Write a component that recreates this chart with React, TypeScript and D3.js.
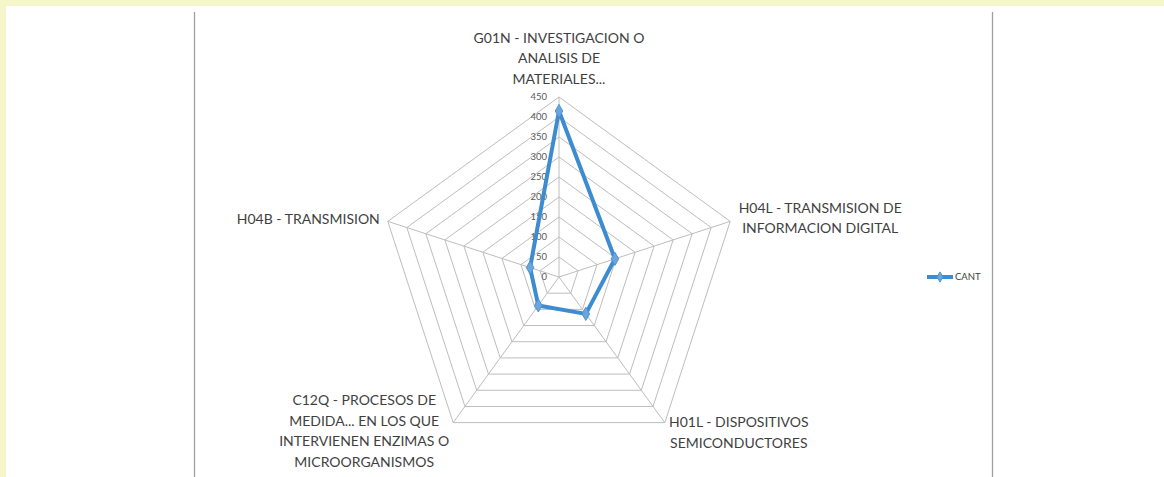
import React from "react";
import * as d3 from "d3";

const categories = [
  "G01N - INVESTIGACION O ANALISIS DE MATERIALES...",
  "H04L - TRANSMISION DE INFORMACION DIGITAL",
  "H01L - DISPOSITIVOS SEMICONDUCTORES",
  "C12Q - PROCESOS DE MEDIDA... EN LOS QUE INTERVIENEN ENZIMAS O MICROORGANISMOS",
  "H04B - TRANSMISION",
];
const categoryLines = [
  ["G01N - INVESTIGACION O", "ANALISIS DE", "MATERIALES..."],
  ["H04L - TRANSMISION DE", "INFORMACION DIGITAL"],
  ["H01L - DISPOSITIVOS", "SEMICONDUCTORES"],
  ["C12Q - PROCESOS DE", "MEDIDA... EN LOS QUE", "INTERVIENEN ENZIMAS O", "MICROORGANISMOS"],
  ["H04B - TRANSMISION"],
];
const seriesName = "CANT";
const values = [415, 147, 114, 88, 76];
const tickValues = [0, 50, 100, 150, 200, 250, 300, 350, 400, 450];

const W = 1164;
const H = 477;
const cx = 559;
const cy = 277;
const R = 180;
const FONT = "Lato, 'Open Sans', sans-serif";

// label layout: center x of block (relative to vertex), first-line center y (relative to vertex)
const labelLayout = [
  { dx: 0, dy: -59 },
  { dx: 90, dy: -13.5 },
  { dx: 74, dy: -0.5 },
  { dx: -89, dy: -22.5 },
  { dx: -8, dy: -2.5, anchor: "end" },
];
const LINE_H = 20.5;

export default function App() {
  const r = d3.scaleLinear().domain([0, 450]).range([0, R]);
  const angle = d3
    .scaleLinear()
    .domain([0, categories.length])
    .range([0, 2 * Math.PI]);
  const pt = (i: number, v: number): [number, number] => {
    const a = angle(i);
    return [cx + r(v) * Math.sin(a), cy - r(v) * Math.cos(a)];
  };
  const ringPath = (v: number) =>
    "M" + categories.map((_, i) => pt(i, v).join(",")).join("L") + "Z";
  const radial = d3
    .lineRadial<number>()
    .angle((_, i) => angle(i))
    .radius((d) => r(d))
    .curve(d3.curveLinearClosed);
  const diamond = d3.symbol().type(d3.symbolDiamond).size(50)();

  return (
    <svg
      width={W}
      height={H}
      style={{ position: "absolute", left: 0, top: 0, fontFamily: FONT }}
    >
      <rect x={0} y={0} width={W} height={H} fill="#ffffff" />
      <rect x={0} y={0} width={W} height={6} fill="#F5F7CB" />
      <rect x={0} y={0} width={6} height={H} fill="#F5F7CB" />
      <line x1={194.5} x2={194.5} y1={12} y2={H} stroke="#A0A0A0" strokeWidth={1.3} />
      <line x1={992.5} x2={992.5} y1={12} y2={H} stroke="#A0A0A0" strokeWidth={1.3} />

      {tickValues.slice(1).map((t) => (
        <path key={t} d={ringPath(t)} fill="none" stroke="#BDBDBD" strokeWidth={1} />
      ))}
      {categories.map((c, i) => {
        const [x, y] = pt(i, 450);
        return <line key={c} x1={cx} y1={cy} x2={x} y2={y} stroke="#BDBDBD" strokeWidth={1} />;
      })}

      {tickValues.map((t) => (
        <text
          key={t}
          x={cx - 12}
          y={cy - r(t)}
          dy="0.35em"
          textAnchor="end"
          fontSize={9.5}
          fill="#595959"
        >
          {t}
        </text>
      ))}

      <path
        d={radial(values) || ""}
        transform={`translate(${cx},${cy})`}
        fill="none"
        stroke="#3D8BD0"
        strokeWidth={4}
        strokeLinejoin="round"
      />
      {values.map((v, i) => {
        const [x, y] = pt(i, v);
        return (
          <path
            key={i}
            d={diamond || ""}
            transform={`translate(${x},${y})`}
            fill="#6AA6DD"
            stroke="#4D94D4"
            strokeWidth={1}
          />
        );
      })}

      {categoryLines.map((lines, i) => {
        const [vx, vy] = pt(i, 450);
        const L = labelLayout[i];
        return (
          <text
            key={i}
            x={vx + L.dx}
            y={vy + L.dy}
            textAnchor={L.anchor || "middle"}
            fontSize={14}
            fill="#3F3F3F"
          >
            {lines.map((ln, j) => (
              <tspan key={j} x={vx + L.dx} y={vy + L.dy + j * LINE_H} dy="0.35em">
                {ln}
              </tspan>
            ))}
          </text>
        );
      })}

      <g transform="translate(927,277)">
        <line x1={0} x2={26} y1={0} y2={0} stroke="#3D8BD0" strokeWidth={4} />
        <path d={d3.symbol().type(d3.symbolDiamond).size(30)() || ""} transform="translate(13,0)" fill="#6AA6DD" stroke="#4D94D4" />
        <text x={28} y={0} dy="0.35em" fontSize={9.5} fill="#404040">
          {seriesName}
        </text>
      </g>
    </svg>
  );
}
